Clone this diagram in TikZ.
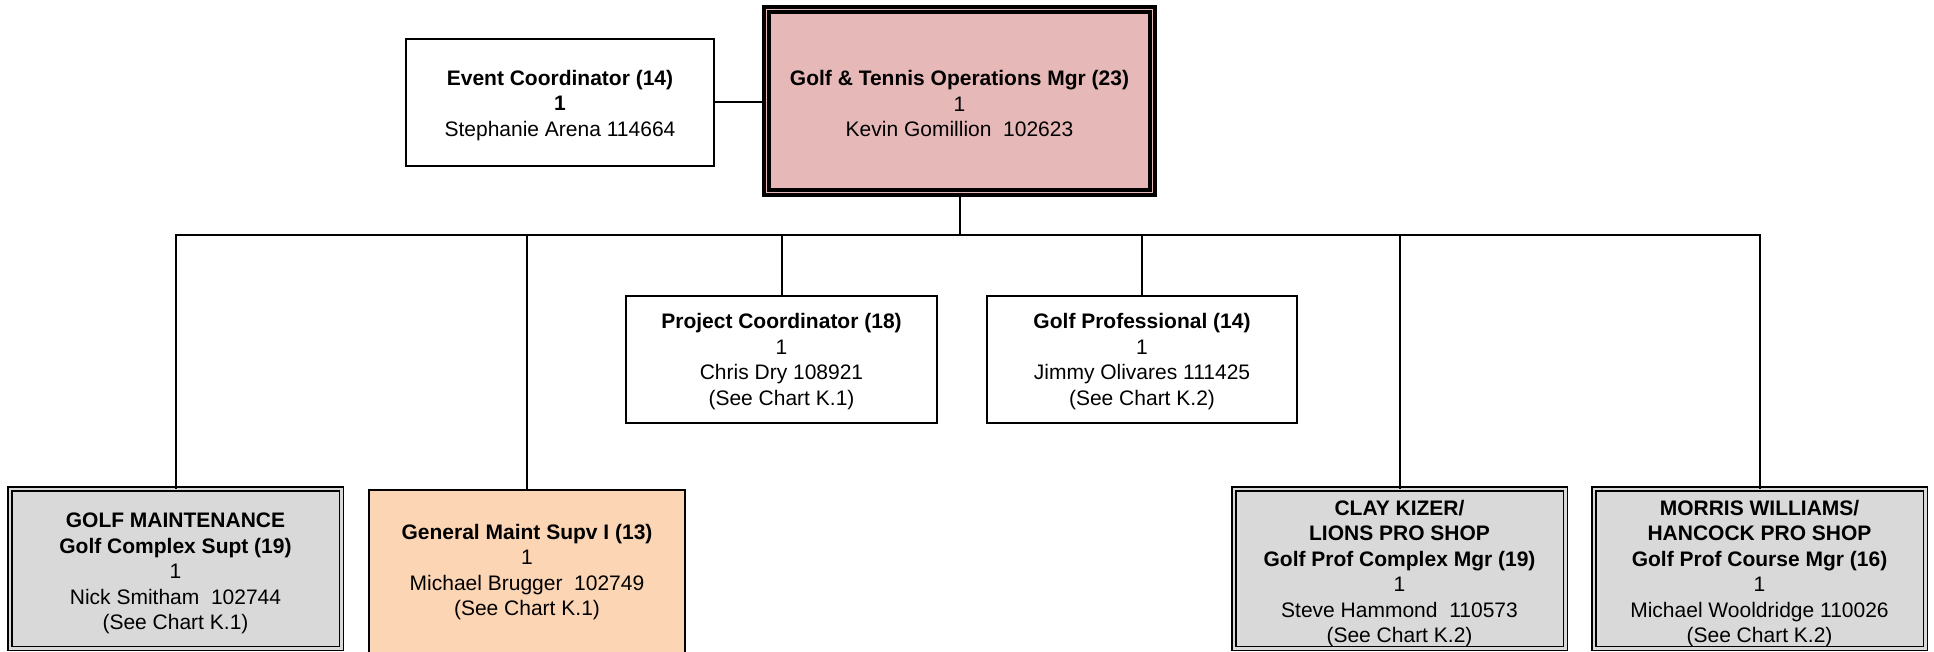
\documentclass[tikz,border=0pt]{standalone}
\usepackage{fontspec}
\setmainfont{Liberation Sans}
\definecolor{mgrpink}{HTML}{E6B8B7}
\definecolor{peach}{HTML}{FCD5B4}
\definecolor{boxgray}{HTML}{D9D9D9}
\begin{document}
\begin{tikzpicture}[x=1pt,y=-1pt,
  base/.style={rectangle, inner sep=0pt, outer sep=0pt},
  txt/.style={align=center, inner sep=0pt, font=\fontsize{21}{25.5}\selectfont, text=black},
  plainbox/.style={base, draw=black, line width=2pt, fill=white},
  peachbox/.style={base, draw=black, line width=2pt, fill=peach},
  graybox/.style={base, draw=black, line width=1.5pt, double=boxgray, double distance=2.5pt, fill=boxgray},
  mainbox/.style={base, draw=black, line width=3.8pt, double=mgrpink, double distance=1.2pt, fill=mgrpink},
  conn/.style={draw=black, line width=2pt}]
\useasboundingbox (0,0) rectangle (1934,652);

\node[mainbox, minimum width=386.2pt, minimum height=183.2pt,
  label={[txt, yshift=-2.5pt]center:{\textbf{Golf \& Tennis Operations Mgr (23)}\\1\\Kevin Gomillion\ \ 102623}}]
  (main) at (959.5,101) {};
\node[plainbox, minimum width=308pt, minimum height=127pt,
  label={[txt, yshift=-3pt]center:{\textbf{Event Coordinator (14)}\\\textbf{1}\\Stephanie Arena 114664}}]
  (ev) at (560,102.5) {};
\node[plainbox, minimum width=311pt, minimum height=127pt,
  label={[txt, yshift=-2pt]center:{\textbf{Project Coordinator (18)}\\1\\Chris Dry 108921\\(See Chart K.1)}}]
  (pc) at (781.5,359.5) {};
\node[plainbox, minimum width=310pt, minimum height=127pt,
  label={[txt, yshift=-2pt]center:{\textbf{Golf Professional (14)}\\1\\Jimmy Olivares 111425\\(See Chart K.2)}}]
  (gp) at (1142,359.5) {};
\node[graybox, minimum width=331.5pt, minimum height=159.5pt,
  label={[txt, yshift=-5pt]center:{\textbf{GOLF MAINTENANCE}\\\textbf{Golf Complex Supt (19)}\\1\\Nick Smitham\ \ 102744\\(See Chart K.1)}}]
  (gm) at (175.5,568.5) {};
\node[peachbox, minimum width=316pt, minimum height=167pt,
  label={[txt, yshift=1.5pt]center:{\textbf{General Maint Supv I (13)}\\1\\Michael Brugger\ \ 102749\\(See Chart K.1)}}]
  (gs) at (527,573.5) {};
\node[graybox, minimum width=331.5pt, minimum height=159.5pt,
  label={[txt, yshift=-5pt]center:{\textbf{CLAY KIZER/}\\\textbf{LIONS PRO SHOP}\\\textbf{Golf Prof Complex Mgr (19)}\\1\\Steve Hammond\ \ 110573\\(See Chart K.2)}}]
  (ck) at (1399.5,568.5) {};
\node[graybox, minimum width=331.5pt, minimum height=159.5pt,
  label={[txt, yshift=-5pt]center:{\textbf{MORRIS WILLIAMS/}\\\textbf{HANCOCK PRO SHOP}\\\textbf{Golf Prof Course Mgr (16)}\\1\\Michael Wooldridge 110026\\(See Chart K.2)}}]
  (mw) at (1759.5,568.5) {};

\coordinate (bus) at (0,235);
\draw[conn] (ev.east) -- (ev.east -| main.west);
\draw[conn] (main.south) -- (main.south |- bus);
\draw[conn] (gm.north) -- (gm.north |- bus) -- (mw.north |- bus) -- (mw.north);
\draw[conn] (gs.north) -- (gs.north |- bus);
\draw[conn] (pc.north) -- (pc.north |- bus);
\draw[conn] (gp.north) -- (gp.north |- bus);
\draw[conn] (ck.north) -- (ck.north |- bus);
\end{tikzpicture}
\end{document}
